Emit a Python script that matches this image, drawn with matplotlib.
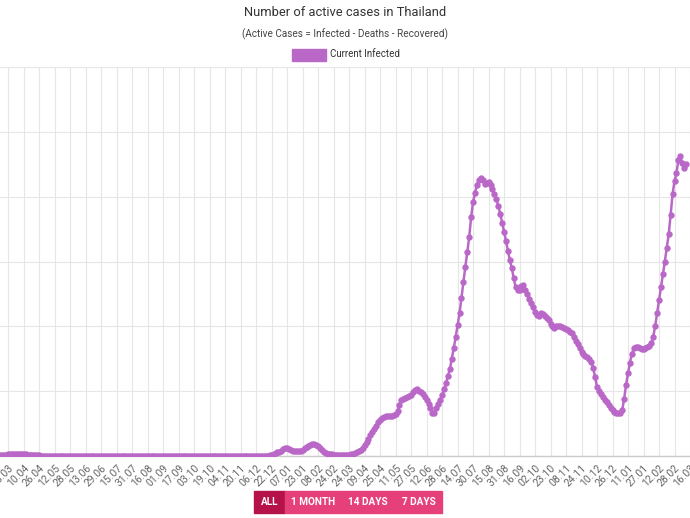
import numpy as np
import matplotlib
matplotlib.use("Agg")
import matplotlib.pyplot as plt
from matplotlib.patches import Rectangle

plt.rcParams['font.family'] = ['Roboto', 'DejaVu Sans']

# x-axis category labels, one every 16 days
tick_labels = ['25.03', '10.04', '26.04', '12.05', '28.05', '13.06', '29.06', '15.07',
               '31.07', '16.08', '01.09', '17.09', '03.10', '19.10', '04.11', '20.11',
               '06.12', '22.12', '07.01', '23.01', '08.02', '24.02', '24.03', '09.04',
               '25.04', '11.05', '27.05', '12.06', '28.06', '14.07', '30.07', '15.08',
               '31.08', '16.09', '02.10', '23.10', '08.11', '24.11', '10.12', '26.12',
               '11.01', '27.01', '12.02', '28.02', '16.03']

# active cases (thousands), read every 2 days, day 0 = first tick label
first_wave = [0.4, 0.6, 0.9, 1.1, 1.3, 1.5, 1.7, 1.8, 1.8, 1.8, 1.7, 1.6, 1.5,
              1.3, 1.1, 0.9, 0.8, 0.6, 0.5, 0.4, 0.4, 0.3, 0.3, 0.3, 0.2]  # day -8..40

quiet_2020 = [0.2, 0.2, 0.2, 0.2, 0.2, 0.2, 0.2, 0.1, 0.1, 0.1, 0.1, 0.1, 0.1, 0.1,
              0.1, 0.1, 0.1, 0.1, 0.1, 0.1, 0.1, 0.1, 0.1, 0.1, 0.1, 0.1, 0.1, 0.1,
              0.1, 0.1, 0.1, 0.1, 0.1, 0.1, 0.1, 0.1, 0.1, 0.1, 0.1, 0.1, 0.1, 0.1,
              0.1, 0.1, 0.1, 0.1, 0.1, 0.1, 0.1, 0.1, 0.1, 0.1, 0.1, 0.1, 0.1, 0.1,
              0.1, 0.1, 0.1, 0.1, 0.1, 0.1, 0.1, 0.1, 0.1, 0.1, 0.1, 0.1, 0.1, 0.1,
              0.1, 0.1, 0.1, 0.1, 0.1, 0.1, 0.1, 0.1, 0.1, 0.1, 0.1, 0.1, 0.1, 0.1,
              0.1, 0.1, 0.1, 0.1, 0.1, 0.1, 0.1, 0.1, 0.1, 0.1, 0.1, 0.1, 0.1, 0.1,
              0.1, 0.1, 0.1, 0.1, 0.1, 0.1, 0.1, 0.2, 0.2, 0.2, 0.2, 0.2, 0.2, 0.2,
              0.2]  # day 42..266

second_wave = [0.3, 0.6, 1.0, 1.5, 2.1, 2.7, 3.3, 4.2, 5.2, 5.9, 6.2, 5.5, 4.6, 4.1,
               3.9, 3.8, 3.8, 4.2, 5.0, 5.8, 6.8, 7.7, 8.5, 9.1, 9.2, 8.7, 7.5, 6.0,
               4.4, 3.1, 2.3, 1.7, 1.4, 1.2, 1.1, 1.1, 1.0, 1.0, 1.0, 0.9, 0.9, 0.9,
               1.0, 1.2, 1.6]  # day 268..356

third_wave = [2.5, 3.2, 3.9, 4.6, 6.5, 8.7, 10.8, 13.4, 16, 18.5, 21, 23.5, 26, 28,
              29.5, 30.2, 30.5, 30.7, 30.9, 31.1, 31.4, 32.5, 34.5, 39, 43, 44, 44.6,
              45.5, 46.3, 47, 49, 51, 51.5, 50.5, 49, 47.5, 45.5, 43, 40, 37, 33, 33,
              37, 40, 43.5, 47, 51.5, 56, 61.5, 67, 75, 83, 91.5, 101, 110, 122, 134,
              146, 157, 169, 184, 196, 203, 209, 212.5, 214.5, 213, 210, 210.5, 211,
              209, 206]  # day 358..500

decline_omicron = [202, 198, 193, 187, 180, 173, 166, 158, 151, 145, 137, 130, 128, 128,
                   131, 131.5, 128, 125, 121, 118, 114.6, 111, 108.5, 108, 110, 109.5,
                   108, 106.5, 104.5, 102, 100, 99, 100.5, 100.5, 100, 99.5, 98.8, 98,
                   97, 96, 94.5, 92, 89, 86, 83, 80.5, 79, 77.5, 76, 74.5, 72.5, 68, 61,
                   53, 50, 47.5, 45.4, 43.5, 41.5, 39.5, 37, 35.4, 34, 33, 33, 33.5,
                   35.4, 44, 55, 64, 72, 79, 83, 83.8, 83.8, 83, 82.3, 82.8, 83.5, 83.8,
                   84.5, 87, 92, 100, 110, 120, 130, 140, 150, 160.7, 171, 186, 202,
                   212, 218, 228, 231, 226, 222, 225]  # day 502..700

active = np.array(first_wave + quiet_2020 + second_wave + third_wave + decline_omicron)
days = np.arange(-8, -8 + 2 * len(active), 2)

fig = plt.figure(figsize=(6.9, 5.18), dpi=100)
ax = fig.add_axes([0, 62 / 518, 1, 389 / 518])

ax.plot(days, active, color='#BA68C8', lw=1.8, marker='o', ms=4.6,
        markeredgewidth=0, solid_capstyle='round', zorder=3)

ax.set_xlim(-8.5, 701.0)
ax.set_ylim(0, 300)
ax.set_xticks(np.arange(len(tick_labels)) * 16)
ax.set_xticklabels(tick_labels, rotation=45, ha='right', rotation_mode='anchor',
                   fontsize=7.5, color='#666666')
ax.set_yticks(np.arange(0, 301, 50))
ax.set_yticklabels([])
ax.tick_params(axis='x', length=0, pad=5)
ax.tick_params(axis='y', length=0)
ax.grid(True, color='#e6e6e6', lw=0.8)
ax.set_axisbelow(True)
for s in ['top', 'left', 'right']:
    ax.spines[s].set_visible(False)
ax.spines['bottom'].set_color('#cccccc')
ax.spines['bottom'].set_linewidth(1)

fig.text(0.5, 1 - 13 / 518, 'Number of active cases in Thailand', ha='center', va='center',
         fontsize=9.3, color='#333333')
fig.text(0.5, 1 - 34 / 518, '(Active Cases = Infected - Deaths - Recovered)', ha='center',
         va='center', fontsize=7.2, color='#444444')

# legend
fig.patches.append(Rectangle((292 / 690, 1 - 61 / 518), 34 / 690, 12 / 518,
                             transform=fig.transFigure, color='#BA68C8'))
fig.text(330 / 690, 1 - 54 / 518, 'Current Infected', ha='left', va='center',
         fontsize=7, color='#333333')

# range buttons
buttons = ['ALL', '1 MONTH', '14 DAYS', '7 DAYS']
btn_left = [254, 285, 341, 395]
btn_right = [285, 341, 395, 442]
btn_color = ['#B5124A', '#E6407A', '#E6407A', '#E6407A']
for txt, l, r, c in zip(buttons, btn_left, btn_right, btn_color):
    fig.patches.append(Rectangle((l / 690, 1 - 513 / 518), (r - l) / 690, 22 / 518,
                                 transform=fig.transFigure, color=c))
    fig.text((l + r) / 2 / 690, 1 - 502 / 518, txt, ha='center', va='center',
             fontsize=7.2, color='white', fontweight='bold')

fig.savefig('out.png', dpi=100)
